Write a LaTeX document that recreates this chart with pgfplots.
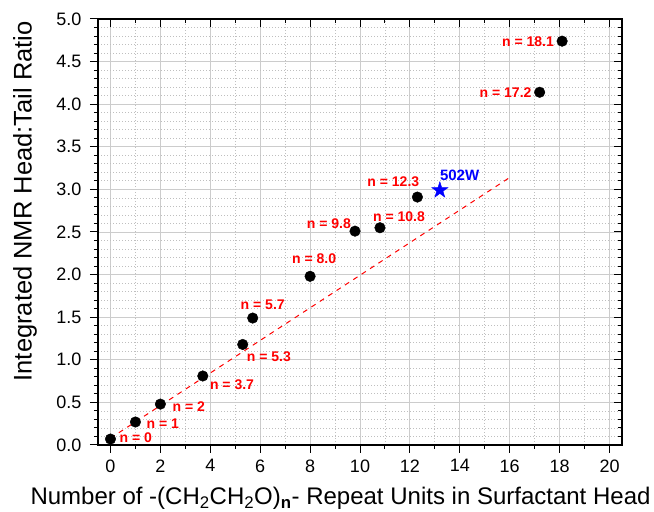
\documentclass[border=0pt]{standalone}
\usepackage{fontspec}
\setmainfont{Liberation Sans}
\usepackage{pgfplots}
\pgfplotsset{compat=1.18}
\usetikzlibrary{calc}

\pgfdeclareplotmark{fstar}{%
  \pgfpathmoveto{\pgfpointpolar{90}{\pgfplotmarksize}}%
  \pgfpathlineto{\pgfpointpolar{126}{0.382\pgfplotmarksize}}%
  \pgfpathlineto{\pgfpointpolar{162}{\pgfplotmarksize}}%
  \pgfpathlineto{\pgfpointpolar{198}{0.382\pgfplotmarksize}}%
  \pgfpathlineto{\pgfpointpolar{234}{\pgfplotmarksize}}%
  \pgfpathlineto{\pgfpointpolar{270}{0.382\pgfplotmarksize}}%
  \pgfpathlineto{\pgfpointpolar{306}{\pgfplotmarksize}}%
  \pgfpathlineto{\pgfpointpolar{342}{0.382\pgfplotmarksize}}%
  \pgfpathlineto{\pgfpointpolar{18}{\pgfplotmarksize}}%
  \pgfpathlineto{\pgfpointpolar{54}{0.382\pgfplotmarksize}}%
  \pgfpathclose
  \pgfusepathqfillstroke
}

\pgfplotstableread{
x y
0 0.07
1 0.27
2 0.48
3.7 0.81
5.3 1.18
5.7 1.49
8.0 1.98
9.8 2.51
10.8 2.55
12.3 2.91
17.2 4.14
18.1 4.74
}\ratiodata

\begin{document}
\begin{tikzpicture}
\begin{axis}[
  name=main,
  scale only axis, width=524pt, height=426pt,
  xmin=-0.5, xmax=20.5, ymin=0, ymax=5,
  xtick={0,2,...,20}, minor x tick num=1,
  ytick={0,0.5,...,5.01}, minor y tick num=4,
  xtick pos=lower, ytick pos=left,
  tick align=outside,
  major tick length=8pt, minor tick length=4pt,
  every tick/.style={black, line width=1pt},
  axis line style={line width=1.3pt},
  grid=both,
  major grid style={gray!40, line width=0.9pt},
  minor grid style={gray!50, line width=0.8pt, dash pattern=on 0.8pt off 2.2pt},
  /pgf/number format/assume math mode=true,
  ticklabel style={font=\fontsize{18}{18}\selectfont},
  xticklabel shift=3pt, yticklabel shift=5pt,
  yticklabel style={/pgf/number format/fixed, /pgf/number format/fixed zerofill, /pgf/number format/precision=1},
  xlabel={Number of -(CH\textsubscript{2}CH\textsubscript{2}O)\textsubscript{\textbf{n}}- Repeat Units in Surfactant Head},
  ylabel={Integrated NMR Head:Tail Ratio},
  xlabel style={font=\fontsize{24}{24}\selectfont, at={(axis description cs:0.4628,0)}, anchor=base, yshift=-60pt},
  ylabel style={font=\fontsize{25.5}{25.5}\selectfont, inner sep=0pt, at={(axis description cs:-0.1164,0.572)}, anchor=south},
  clip=false,
]
\addplot[red, line width=1pt, dash pattern=on 5pt off 5pt] coordinates {(0,0.08) (16,3.14)};
\addplot[only marks, mark=*, mark size=5.3pt, black] table[x=x,y=y] {\ratiodata};
\addplot[only marks, mark=fstar, mark size=8.5pt, blue, fill=blue] coordinates {(13.2,2.99)};

\begin{scope}[every node/.style={red, inner sep=0pt, font=\bfseries\fontsize{14}{14}\selectfont}]
\node[anchor=west, xshift=9pt, yshift=1pt] at (axis cs:0,0.07) {n = 0};
\node[anchor=west, xshift=11pt, yshift=-2pt] at (axis cs:1,0.27) {n = 1};
\node[anchor=west, xshift=12pt, yshift=-3pt] at (axis cs:2,0.48) {n = 2};
\node[anchor=west, xshift=7pt, yshift=-9pt] at (axis cs:3.7,0.81) {n = 3.7};
\node[anchor=west, xshift=4pt, yshift=-12pt] at (axis cs:5.3,1.18) {n = 5.3};
\node[xshift=10pt, yshift=13pt] at (axis cs:5.7,1.49) {n = 5.7};
\node[xshift=4pt, yshift=18pt] at (axis cs:8.0,1.98) {n = 8.0};
\node[anchor=east, xshift=-4pt, yshift=7pt] at (axis cs:9.8,2.51) {n = 9.8};
\node[xshift=19pt, yshift=11pt] at (axis cs:10.8,2.55) {n = 10.8};
\node[anchor=east, xshift=2pt, yshift=15pt] at (axis cs:12.3,2.91) {n = 12.3};
\node[anchor=east, xshift=-8pt, yshift=0pt] at (axis cs:17.2,4.14) {n = 17.2};
\node[anchor=east, xshift=-8pt, yshift=-1pt] at (axis cs:18.1,4.74) {n = 18.1};
\node[blue, anchor=west, font=\bfseries\fontsize{15}{15}\selectfont, xshift=0pt, yshift=15pt] at (axis cs:13.2,2.99) {502W};
\end{scope}
\end{axis}
\begin{axis}[
  scale only axis, width=524pt, height=426pt,
  xmin=-0.5, xmax=20.5, ymin=0, ymax=5,
  xtick={0,2,...,20}, minor x tick num=1,
  ytick={0,0.5,...,5.01}, minor y tick num=4,
  xtick pos=upper, ytick pos=right,
  tick align=inside,
  major tick length=8pt, minor tick length=4pt,
  every tick/.style={black, line width=1pt},
  axis line style={line width=1.3pt},
  xticklabels={}, yticklabels={},
]
\end{axis}
\pgfresetboundingbox
\path (main.south west) ++(-98pt,-67pt) rectangle ($(main.north east)+(32pt,19pt)$);
\end{tikzpicture}
\end{document}
